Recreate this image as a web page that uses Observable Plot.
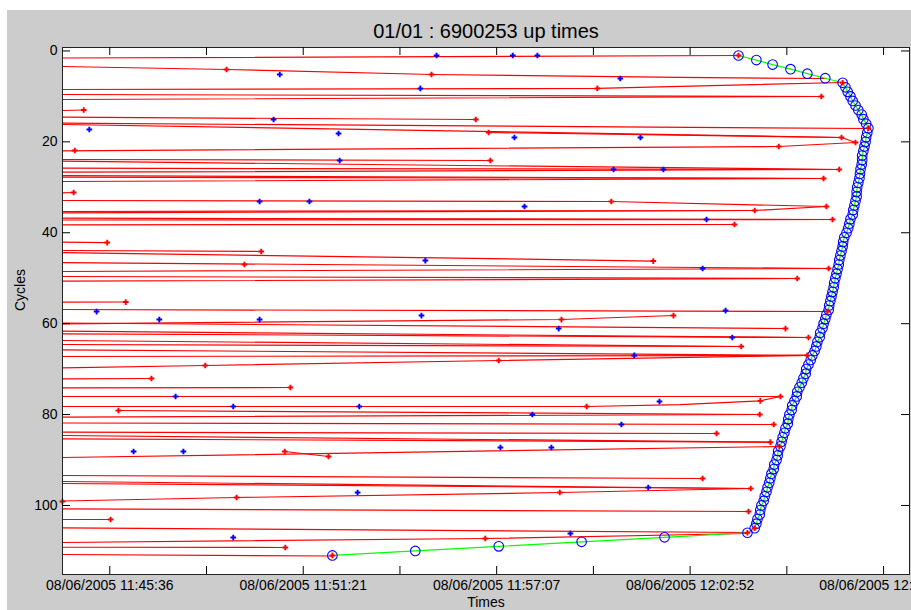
<!DOCTYPE html>
<html><head><meta charset="utf-8">
<script src="https://cdn.jsdelivr.net/npm/d3@7"></script>
<script src="https://cdn.jsdelivr.net/npm/@observablehq/plot@0.6"></script>
<style>
html,body{margin:0;padding:0;background:#fff;width:911px;height:610px;overflow:hidden;}
#fig{position:absolute;left:7px;top:10px;width:904px;height:600px;background:#cccccc;}
#chart{position:absolute;left:0;top:0;}
</style></head><body>
<div id="fig"></div><div id="chart"></div>
<script>
// time values are seconds after 08/06/2005 11:44:00
const title = "01/01 : 6900253 up times";
const xLabel = "Times";
const yLabel = "Cycles";
const yTicks = [0, 20, 40, 60, 80, 100];
const xMajorTicks = [96.5, 441.9, 787.3, 1132.7, 1478.1];
const xMinorTicks = [269.2, 614.6, 960.0, 1305.4];
const xTickLabels = ["08/06/2005 11:45:36", "08/06/2005 11:51:21", "08/06/2005 11:57:07", "08/06/2005 12:02:52", "08/06/2005 12:08:38"];

// end ("up") time of each cycle 1..111
const upTimes = [
  1219, 1251, 1280, 1312, 1342, 1374, 1405,
  1410, 1414, 1419, 1423, 1428, 1433, 1439, 1442, 1447, 1451,
  1449, 1447, 1446, 1444, 1442, 1440, 1440, 1439, 1437, 1436, 1435, 1433, 1431, 1430, 1430, 1428, 1426, 1424, 1423, 1419, 1417, 1415, 1412, 1408, 1406,
  1405, 1403, 1401, 1399, 1398, 1396, 1394, 1392, 1390, 1389, 1387, 1385, 1383, 1381, 1380, 1376,
  1374, 1371, 1369, 1365, 1364, 1360, 1358, 1355, 1351,
  1348, 1344, 1340, 1339, 1335, 1332, 1328, 1324, 1323, 1319, 1315,
  1314, 1310, 1308, 1307, 1303, 1301, 1298, 1296, 1294,
  1290, 1289, 1287, 1283, 1282, 1278, 1276, 1274, 1271,
  1269, 1266, 1264, 1260, 1258, 1257, 1253, 1251, 1248, 1235,
  1087, 939, 791, 642, 494
];

// red traces: [time, cycle] points
const redPaths = [
  [[12,1.55],[1219,1.0]],
  [[12,3.42],[305,4.08],[671,5.18],[1115,5.83],[1374,6.06]],
  [[12,8.48],[967,8.25],[1405,6.94]],
  [[12,9.58],[1367,10.02]],
  [[12,10.68],[1367,10.02]],
  [[12,13.10],[50,12.99]],
  [[12,14.58],[750,15.08]],
  [[12,15.90],[1451,17.06]],
  [[12,16.18],[1403,19.04]],
  [[773,17.94],[1403,19.04]],
  [[12,21.97],[1291,21.02],[1428,20.14]],
  [[1403,19.04],[1428,20.14]],
  [[12,23.88],[776,24.10]],
  [[12,24.26],[1399,26.08]],
  [[12,25.80],[1399,26.08]],
  [[12,26.68],[1399,26.08]],
  [[12,27.41],[1371,28.06]],
  [[12,27.78],[1371,28.06]],
  [[12,28.72],[1371,28.06]],
  [[12,31.21],[32,31.14]],
  [[12,32.90],[992,33.12],[1376,34.22]],
  [[12,35.32],[1248,35.10],[1376,34.22]],
  [[12,35.61],[1248,35.10]],
  [[12,36.80],[1387,37.08]],
  [[12,37.19],[1387,37.08]],
  [[12,38.25],[1212,38.18]],
  [[12,42.08],[92,42.15]],
  [[12,43.90],[367,44.12]],
  [[12,44.35],[1067,46.22]],
  [[12,46.55],[1380,47.86]],
  [[12,49.62],[1324,50.06]],
  [[12,48.52],[1380,47.86]],
  [[12,50.66],[1324,50.06]],
  [[12,55.28],[125,55.24]],
  [[12,56.89],[1378,57.33]],
  [[12,60.03],[903,59.09],[1103,58.21]],
  [[12,59.86],[1303,61.07]],
  [[12,61.66],[1344,63.05]],
  [[12,62.23],[1344,63.05]],
  [[12,63.71],[1224,65.03]],
  [[12,64.59],[1224,65.03]],
  [[12,65.75],[1342,67.00]],
  [[12,67.23],[1342,67.00]],
  [[12,69.71],[267,69.21],[791,68.11],[1342,67.00]],
  [[12,72.13],[171,72.07]],
  [[12,74.11],[419,74.05]],
  [[12,76.03],[1294,76.03]],
  [[12,78.23],[948,78.23],[1115,77.8],[1258,76.98],[1294,76.03]],
  [[112,79.11],[1257,79.99]],
  [[12,80.58],[1257,79.99]],
  [[12,81.86],[1282,82.19]],
  [[12,83.88],[1180,84.17]],
  [[12,84.61],[1276,86.08]],
  [[12,85.34],[1276,86.08]],
  [[12,89.45],[1292,87.03]],
  [[409,88.13],[487,89.23]],
  [[12,93.41],[1155,94.07]],
  [[12,94.73],[1241,96.27]],
  [[12,95.17],[1241,96.27]],
  [[12,99.02],[323,98.25],[900,97.15],[1241,96.27]],
  [[12,100.74],[1237,101.33]],
  [[12,103.09],[98,103.09]],
  [[12,104.92],[1235,105.95]],
  [[12,108.15],[767,107.27],[1235,106.17]],
  [[12,109.19],[410,109.25]],
  [[12,110.79],[494,111.12]]
];

// red event markers [time, cycle]
const redMarks = [
  [305,4.08],[671,5.18],[967,8.25],[1367,10.02],[50,12.99],[750,15.08],[773,17.94],[1403,19.04],
  [1428,20.14],[34,21.90],[1291,21.02],[776,24.10],[1399,26.08],[1371,28.06],[32,31.14],[992,33.12],
  [1376,34.22],[1248,35.10],[1387,37.08],[1212,38.18],[92,42.15],[367,44.12],[337,46.98],[1067,46.22],
  [1380,47.86],[1324,50.06],[125,55.24],[1103,58.21],[903,59.09],[1303,61.07],[1224,65.03],[1344,63.05],
  [267,69.21],[791,68.11],[171,72.07],[419,74.05],[1294,76.03],[112,79.11],[948,78.23],[1258,76.98],
  [1257,79.99],[1282,82.19],[1180,84.17],[1276,86.08],[1292,87.03],[409,88.13],[487,89.23],[1155,94.07],
  [1241,96.27],[323,98.25],[900,97.15],[12,99.13],[98,103.09],[1237,101.33],[767,107.27],[410,109.25],
  [1219,1],[1405,7],[1451,17],[1378,57.33],[1342,67],[1248,105],[1235,106],[494,111]
];

// blue event markers [time, cycle]
const blueMarks = [
  [680,1.0],[816,1.0],[860,1.0],[400,5.18],[1008,6.06],[651,8.25],[60,17.28],[389,15.08],
  [505,18.16],[819,19.04],[1044,19.04],[507,24.10],[996,26.08],[1085,26.08],[364,33.12],[453,33.12],
  [837,34.22],[1162,37.08],[660,46.11],[1155,47.86],[73,57.33],[185,59.09],[364,59.09],[653,58.21],
  [898,61.07],[1196,57.11],[1208,63.05],[1033,67.00],[214,76.03],[317,78.23],[542,78.23],[851,79.99],
  [1078,77.13],[1010,82.19],[139,88.13],[228,88.13],[794,87.25],[885,87.25],[539,97.15],[1058,96.05],
  [919,106.17],[317,107.05]
];

const xDomain = [12.1, 1524.4];
const yDomain = [-0.76, 115.19];
const tickLenX = 14.3;  // 8px in seconds
const tickLenY = 1.76;  // 8px in cycles

const redRows = redPaths.flatMap((p, id) => p.map(([t, c]) => ({id, t, c})));
const upRows = upTimes.map((t, i) => ({t, c: i + 1}));
const allXTicks = [...xMajorTicks, ...xMinorTicks];

const chart = Plot.plot({
  width: 911, height: 610,
  marginLeft: 62, marginRight: 2, marginTop: 47, marginBottom: 36,
  style: {background: "transparent", fontFamily: "'Liberation Sans', Arial, sans-serif", fontSize: "14px", overflow: "visible"},
  x: {domain: xDomain, axis: null},
  y: {domain: yDomain, reverse: true, axis: null},
  marks: [
    Plot.frame({fill: "white"}),
    Plot.line(redRows, {x: "t", y: "c", z: "id", stroke: "#ff0000", strokeWidth: 1.2}),
    Plot.line(upRows, {x: "t", y: "c", stroke: "#00ff00", strokeWidth: 1.2}),
    Plot.dot(upRows, {x: "t", y: "c", r: 4.8, stroke: "#0000ff", fill: "none", strokeWidth: 1.1}),
    Plot.dot(redMarks, {x: d => d[0], y: d => d[1], symbol: "cross", r: 2.4, fill: "#ff0000", stroke: "none"}),
    Plot.dot(blueMarks, {x: d => d[0], y: d => d[1], symbol: "cross", r: 2.4, fill: "#0000ff", stroke: "none"}),
    Plot.frame({stroke: "#222", strokeWidth: 1}),
    Plot.ruleY(yTicks, {y: d => d, x1: xDomain[0], x2: xDomain[0] + tickLenX, stroke: "#000"}),
    Plot.ruleY(yTicks, {y: d => d, x1: xDomain[1] - tickLenX, x2: xDomain[1], stroke: "#000"}),
    Plot.ruleX(allXTicks, {x: d => d, y1: yDomain[0], y2: yDomain[0] + tickLenY, stroke: "#000"}),
    Plot.ruleX(allXTicks, {x: d => d, y1: yDomain[1] - tickLenY, y2: yDomain[1], stroke: "#000"}),
    Plot.axisY(yTicks, {anchor: "left", tickSize: 0, tickPadding: 5, label: null, fontSize: 14}),
    Plot.axisX(xMajorTicks, {anchor: "bottom", tickSize: 0, tickPadding: 6, label: null, fontSize: 14,
      tickFormat: d => xTickLabels[xMajorTicks.indexOf(d)]}),
    Plot.text([title], {text: d => d, frameAnchor: "top", dy: -24, fontSize: 20}),
    Plot.text([xLabel], {text: d => d, frameAnchor: "bottom", dy: 32, fontSize: 14}),
    Plot.text([yLabel], {text: d => d, frameAnchor: "left", dx: -42, rotate: -90, fontSize: 14})
  ]
});
document.getElementById("chart").appendChild(chart);
</script></body></html>
